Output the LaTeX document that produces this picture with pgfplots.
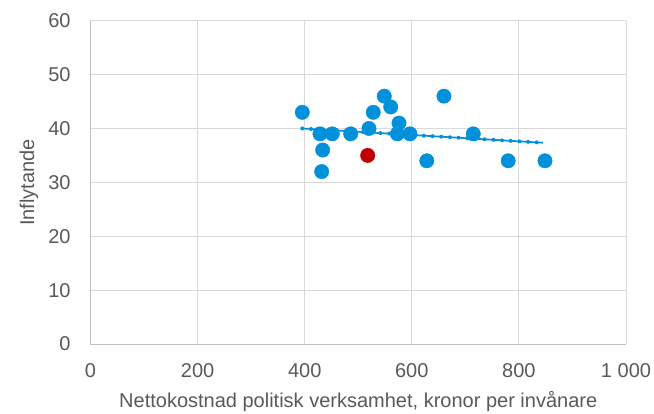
\documentclass[border=0pt]{standalone}
\usepackage{fontspec}
\setmainfont{Liberation Sans}
\usepackage{pgfplots}
\pgfplotsset{compat=1.18}
\definecolor{ptblue}{RGB}{0,145,218}
\definecolor{ptred}{RGB}{192,0,0}
\definecolor{gridc}{RGB}{217,217,217}
\definecolor{axc}{RGB}{191,191,191}
\definecolor{txt}{RGB}{89,89,89}
\begin{document}
\begin{tikzpicture}
\begin{axis}[
  at={(0,0)}, anchor=south west,
  scale only axis, width=535.5pt, height=323.3pt,
  xmin=0, xmax=1000, ymin=0, ymax=60,
  xtick={0,200,400,600,800,1000},
  xticklabels={0,200,400,600,800,1 000},
  ytick={0,10,20,30,40,50,60},
  yticklabels={0,10,20,30,40,50,60},
  grid=major,
  major grid style={gridc, line width=1pt},
  axis lines=left,
  axis line style={axc, line width=1pt, -},
  tick style={draw=none}, major tick length=0pt,
  ticklabel style={font=\fontsize{20}{24}\selectfont, text=txt},
  yticklabel style={anchor=east, inner sep=0pt, xshift=-19.8pt},
  xticklabel style={anchor=north, inner sep=0pt, yshift=-19.3pt},
  xlabel={Nettokostnad politisk verksamhet, kronor per invånare},
  ylabel={Inflytande},
  label style={font=\fontsize{20}{24}\selectfont, text=txt, inner sep=0pt},
  xlabel style={at={(axis description cs:0.5,-0.1958)}, anchor=base},
  ylabel style={at={(axis description cs:-0.1055,0.5)}, anchor=base},
  clip=false,
]
\addplot[ptblue, line width=1.7pt] coordinates {(395.5,40.0) (845,37.35)};
\addplot[ptblue, line width=4pt, line cap=round, dash pattern=on 0pt off 8.7pt] coordinates {(395.5,40.0) (845,37.35)};
\addplot[only marks, mark=*, mark size=7.2pt, mark options={fill=ptblue, draw=ptblue}] coordinates {
(395.5,43) (428.6,39) (451.5,39) (485.9,39) (520,40) (528,43) (548.6,46) (560.6,44)
(576,41) (573,39) (596.6,39) (433.6,36) (431.7,32) (628,34) (660,46) (714.8,39)
(780,34) (848.7,34)
};
\addplot[only marks, mark=*, mark size=7.2pt, mark options={fill=ptred, draw=ptred}] coordinates {(517.6,35)};
\end{axis}
\pgfresetboundingbox
\path[use as bounding box] (-90.5pt,-69pt) rectangle (563.5pt,344pt);
\end{tikzpicture}
\end{document}
